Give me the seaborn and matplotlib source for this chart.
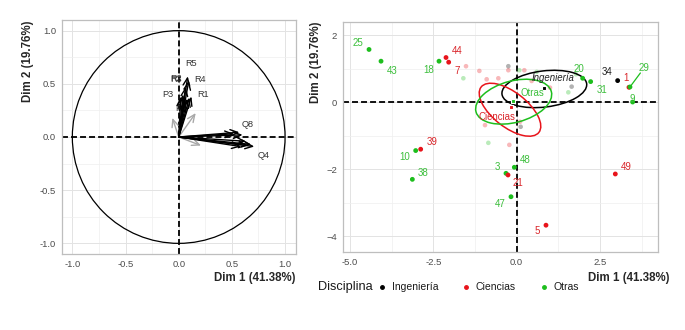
import numpy as np
import pandas as pd
import matplotlib
matplotlib.use("Agg")
import matplotlib.pyplot as plt
import seaborn as sns
from matplotlib.patches import Ellipse, Circle
from matplotlib.lines import Line2D

# ---------------- data ----------------
# variables (left panel: correlation circle)
var_names = ["R5", "R4", "R3", "R2", "P3", "R1", "P2", "P1", "R6",
             "Q8", "Q1", "Q2", "Q3", "Q4", "Q5", "Q6", "Q7",
             "P4", "P5", "P6"]
var_dim1 = [0.085, 0.095, 0.065, 0.04, 0.02, 0.12, 0.05, 0.08, 0.10,
            0.57, 0.52, 0.63, 0.68, 0.71, 0.585, 0.65, 0.60,
            -0.06, 0.16, 0.21]
var_dim2 = [0.57, 0.53, 0.47, 0.40, 0.38, 0.38, 0.33, 0.36, 0.37,
            0.045, 0.03, -0.04, -0.07, -0.09, -0.09, -0.08, 0.02,
            0.18, 0.225, -0.08]
var_strong = [True] * 17 + [False] * 3
var_labelled = ["R5", "R4", "R3", "R2", "P3", "R1", "P2", "Q8", "Q4"]

# individuals (right panel)
ind_ids = ["25", "43", "18", "44", "7", "20", "31", "34", "1", "29", "9",
           "39", "10", "48", "3", "21", "38", "47", "5", "49"]
ind_dim1 = [-4.43, -4.07, -2.33, -2.12, -2.04, 1.98, 2.22, 3.03, 3.37, 3.40, 3.48,
            -2.88, -3.03, -0.07, -0.32, -0.26, -3.13, -0.17, 0.88, 2.96]
ind_dim2 = [1.58, 1.23, 1.23, 1.34, 1.20, 0.72, 0.62, 0.65, 0.45, 0.46, 0.01,
            -1.40, -1.44, -1.94, -2.12, -2.17, -2.30, -2.82, -3.67, -2.14]
ind_group = ["Otras", "Otras", "Otras", "Ciencias", "Ciencias", "Otras", "Otras",
             "Ingeniería", "Ciencias", "Otras", "Otras",
             "Ciencias", "Otras", "Otras", "Otras", "Ciencias", "Otras", "Otras",
             "Ciencias", "Ciencias"]

# faded (low-quality) individuals
faded_dim1 = [-1.52, -1.12, -0.90, -0.55, -0.25, 0.23, 0.45, 1.00, -0.95, -0.22, 0.10,
              -1.60, 0.08, 0.60, 1.55, 1.78, -0.85,
              -0.25, 1.65, 0.12]
faded_dim2 = [1.08, 0.94, 0.69, 0.72, 0.96, 0.96, 0.64, 0.44, -0.68, -1.27, -0.58,
              0.72, 0.96, 0.91, 0.30, 0.84, -1.21,
              1.08, 0.47, -0.73]
faded_group = ["Ciencias"] * 11 + ["Otras"] * 6 + ["Ingeniería"] * 3

# group centroids / concentration ellipses
groups = ["Ingeniería", "Ciencias", "Otras"]
cent_dim1 = [0.83, -0.18, -0.10]
cent_dim2 = [0.42, -0.15, 0.05]
ell_center_x = [0.83, -0.20, -0.09]
ell_center_y = [0.40, -0.22, 0.02]
ell_width = [2.56, 2.20, 2.34]
ell_height = [1.08, 1.04, 1.24]
ell_angle = [7, -38, 15]

palette = {"Ingeniería": "#000000", "Ciencias": "#E8141B", "Otras": "#1DBE1D"}
label_colors = {"Ingeniería": "#222222", "Ciencias": "#D9262B", "Otras": "#3CBF3C"}

# ---------------- style ----------------
sns.set_theme(style="white")
plt.rcParams['font.family'] = ['Liberation Sans', 'DejaVu Sans']

fig = plt.figure(figsize=(6.85, 3.3), dpi=100)
W, H = 685, 330
ax1 = fig.add_axes([61.7 / W, 1 - 254 / H, 234 / W, 234 / H])
ax2 = fig.add_axes([342.7 / W, 1 - 252.3 / H, 315.6 / W, 230.6 / H])


def style(ax, major_x, major_y, minor_x, minor_y):
    ax.set_facecolor("white")
    for s in ax.spines.values():
        s.set_color("#BEBEBE")
        s.set_linewidth(0.9)
    ax.set_xticks(major_x)
    ax.set_yticks(major_y)
    ax.set_xticks(minor_x, minor=True)
    ax.set_yticks(minor_y, minor=True)
    ax.grid(True, which="major", color="#E3E3E3", lw=0.7, zorder=0)
    ax.grid(True, which="minor", color="#EFEFEF", lw=0.5, zorder=0)
    ax.set_axisbelow(True)
    ax.tick_params(which="both", length=0, labelsize=6.8, labelcolor="#4D4D4D", pad=4)


dash = (0, (3.3, 1.7))

# ---------------- left panel ----------------
style(ax1, [-1.0, -0.5, 0.0, 0.5, 1.0], [-1.0, -0.5, 0.0, 0.5, 1.0],
      [-0.75, -0.25, 0.25, 0.75], [-0.75, -0.25, 0.25, 0.75])
ax1.set_xlim(-1.1, 1.1)
ax1.set_ylim(-1.1, 1.1)
ax1.xaxis.set_major_formatter(matplotlib.ticker.FormatStrFormatter("%.1f"))
ax1.yaxis.set_major_formatter(matplotlib.ticker.FormatStrFormatter("%.1f"))
ax1.add_patch(Circle((0, 0), 1, fill=False, color="black", lw=0.9, zorder=2))
ax1.axhline(0, color="black", ls=dash, lw=1.3, zorder=2)
ax1.axvline(0, color="black", ls=dash, lw=1.3, zorder=2)

vars_df = pd.DataFrame({"name": var_names, "d1": var_dim1, "d2": var_dim2, "strong": var_strong})
label_offsets = {"R5": (0.03, 0.12), "R4": (0.108, 0.014), "R3": (-0.087, 0.074),
                 "R2": (-0.068, 0.147), "P3": (-0.123, 0.023), "R1": (0.112, 0.023),
                 "P2": (-0.028, -0.058), "Q8": (0.078, 0.071), "Q4": (0.088, -0.085)}
for _, r in vars_df.iterrows():
    col = "black" if r.strong else "#A8A8A8"
    ax1.annotate("", xy=(r.d1, r.d2), xytext=(0, 0),
                 arrowprops=dict(arrowstyle="->,head_length=0.45,head_width=0.2",
                                 color=col, lw=1.0, shrinkA=0, shrinkB=0),
                 zorder=4 if r.strong else 3)
    if r["name"] in var_labelled:
        dx, dy = label_offsets[r["name"]]
        ax1.text(r.d1 + dx, r.d2 + dy, r["name"], fontsize=6.6, color="#333333",
                 ha="center", va="center", zorder=3 if r["name"] == "P2" else 5)

ax1.set_xlabel("Dim 1 (41.38%)", fontsize=8.3, fontweight="bold", loc="right")
ax1.xaxis.set_label_coords(1.0, -0.078)
ax1.set_ylabel("Dim 2 (19.76%)", fontsize=8.3, fontweight="bold", loc="top")
ax1.yaxis.set_label_coords(-0.118, 1.0)

# ---------------- right panel ----------------
style(ax2, [-5.0, -2.5, 0.0, 2.5], [-4, -2, 0, 2],
      [-3.75, -1.25, 1.25, 3.75], [-3, -1, 1])
ax2.set_xlim(-5.22, 4.25)
ax2.set_ylim(-4.48, 2.41)
ax2.xaxis.set_major_formatter(matplotlib.ticker.FormatStrFormatter("%.1f"))
ax2.axhline(0, color="black", ls=dash, lw=1.3, zorder=2)
ax2.axvline(0, color="black", ls=dash, lw=1.3, zorder=2)

faded = pd.DataFrame({"d1": faded_dim1, "d2": faded_dim2, "g": faded_group})
sns.scatterplot(data=faded, x="d1", y="d2", hue="g", palette=palette, s=11,
                linewidth=0, alpha=0.3, legend=False, ax=ax2, zorder=3)

for gi, g in enumerate(groups):
    ax2.add_patch(Ellipse((ell_center_x[gi], ell_center_y[gi]), ell_width[gi], ell_height[gi],
                          angle=ell_angle[gi], fill=False, color=palette[g], lw=1.1, zorder=4))
cent = pd.DataFrame({"d1": cent_dim1, "d2": cent_dim2, "g": groups})
sns.scatterplot(data=cent, x="d1", y="d2", hue="g", palette=palette, s=9, marker="s",
                facecolor="none", linewidth=0.8, legend=False, ax=ax2, zorder=5)
cent_text_offset = {"Ingeniería": (0.27, 0.31), "Ciencias": (-0.40, -0.28), "Otras": (0.57, 0.22)}
for gi, g in enumerate(groups):
    dx, dy = cent_text_offset[g]
    ax2.text(cent_dim1[gi] + dx, cent_dim2[gi] + dy, g, fontsize=6.9, color=label_colors[g],
             ha="center", va="center", zorder=6, style="italic" if g == "Ingeniería" else "normal")

ind = pd.DataFrame({"id": ind_ids, "d1": ind_dim1, "d2": ind_dim2, "g": ind_group})
sns.scatterplot(data=ind, x="d1", y="d2", hue="g", palette=palette, s=12,
                linewidth=0, legend=False, ax=ax2, zorder=6)
ind_label_offsets = {"25": (-8, 5), "43": (8, -7), "18": (-7.5, -6), "44": (8, 5),
                     "7": (6, -6.5), "20": (-3, 7), "31": (8.5, -6), "34": (-7.5, 6),
                     "1": (-2, 6.5), "29": (10, 14), "9": (0, 2), "39": (8, 5.5),
                     "10": (-7.7, -5), "48": (8, 5), "3": (-6.3, 4.3), "21": (7.5, -5.5),
                     "38": (8, 4.3), "47": (-8, -5.3), "5": (-6.3, -4), "49": (7.7, 5.3)}
for _, r in ind.iterrows():
    dx, dy = ind_label_offsets[r["id"]]
    ax2.annotate(r["id"], xy=(r.d1, r.d2), xytext=(dx, dy), textcoords="offset points",
                 fontsize=7, color=label_colors[r.g], ha="center", va="center", zorder=7)
    if r["id"] == "29":
        ax2.annotate("", xy=(r.d1, r.d2), xytext=(dx * 0.75, dy * 0.72),
                     textcoords="offset points",
                     arrowprops=dict(arrowstyle="-", color=palette[r.g], lw=0.9,
                                     shrinkA=0, shrinkB=0), zorder=6)

ax2.set_xlabel("Dim 1 (41.38%)", fontsize=8.3, fontweight="bold", loc="right")
ax2.xaxis.set_label_coords(1.037, -0.087)
ax2.set_ylabel("Dim 2 (19.76%)", fontsize=8.3, fontweight="bold", loc="top")
ax2.yaxis.set_label_coords(-0.067, 1.0)

# legend
fig.text(318 / W, 1 - 287 / H, "Disciplina", fontsize=9.2, color="#1A1A1A", va="center", ha="left")
handles = [Line2D([], [], marker="o", ls="", color=palette[g], markersize=2.5) for g in groups]
fig.legend(handles, groups, ncol=3, loc="center left", bbox_to_anchor=(372 / W, 1 - 287.5 / H),
           frameon=False, fontsize=7.5, handlelength=0.9, handletextpad=0.5,
           columnspacing=2.2, borderpad=0, labelcolor="#1A1A1A")

fig.savefig("out.png", dpi=100, facecolor="white")
